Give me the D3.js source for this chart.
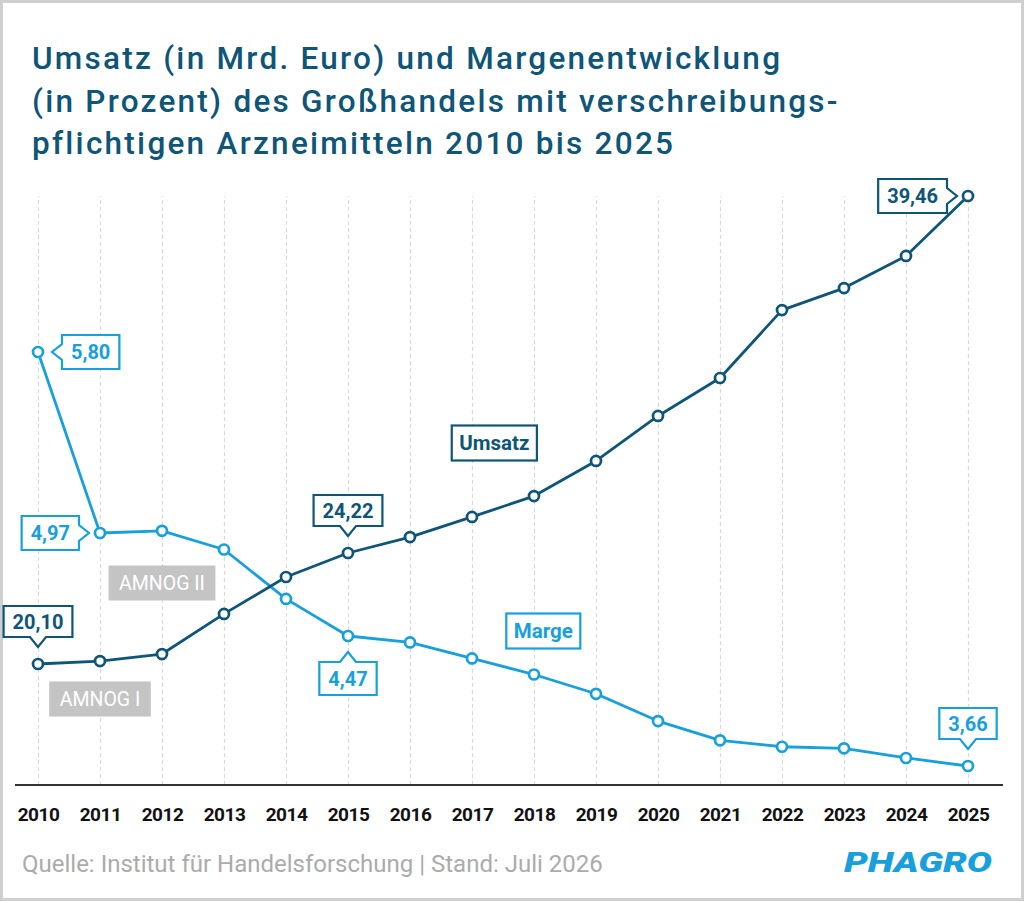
<!DOCTYPE html>
<html>
<head>
<meta charset="utf-8">
<script src="https://cdn.jsdelivr.net/npm/d3@7"></script>
<style>
  body { margin: 0; background: #fff; }
  svg { display: block; }
</style>
</head>
<body>
<div id="chart"></div>
<script>
// data
const years = [2010, 2011, 2012, 2013, 2014, 2015, 2016, 2017, 2018, 2019, 2020, 2021, 2022, 2023, 2024, 2025];
const umsatz = [20.10, 20.21, 20.47, 21.96, 23.33, 24.22, 24.90, 25.76, 26.65, 28.15, 30.07, 31.69, 34.59, 35.53, 36.90, 39.46];
const marge = [5.80, 4.97, 4.98, 4.89, 4.65, 4.47, 4.43, 4.33, 4.23, 4.11, 3.94, 3.82, 3.78, 3.77, 3.71, 3.66];

// which points carry a value callout, and on which side of the point
const umsatzLabels = [[2010, "top"], [2015, "top"], [2025, "left"]];
const margeLabels = [[2010, "right"], [2011, "left"], [2015, "bottom"], [2025, "top"]];

const notes = [
  { text: "AMNOG I", year: 2011 },
  { text: "AMNOG II", year: 2012 }
];

const titleLines = [
  "Umsatz (in Mrd. Euro) und Margenentwicklung",
  "(in Prozent) des Großhandels mit verschreibungs-",
  "pflichtigen Arzneimitteln 2010 bis 2025"
];
const source = "Quelle: Institut für Handelsforschung | Stand: Juli 2026";

const width = 1024, height = 901;
const dark = "#0e5577", light = "#17a0dc", grey = "#c4c4c4";
const font = "Roboto, 'DejaVu Sans', sans-serif";

const svg = d3.select("#chart")
  .append("svg")
  .attr("width", width)
  .attr("height", height)
  .attr("viewBox", [0, 0, width, height]);

// outer frame
svg.append("rect")
  .attr("x", 1.5).attr("y", 1.5)
  .attr("width", width - 3).attr("height", height - 3)
  .attr("fill", "#fff")
  .attr("stroke", "#cfcfcf")
  .attr("stroke-width", 3);

// title - the original face is wider than Roboto, so open up the tracking to the same line length
const title = svg.append("text")
  .attr("x", 32)
  .attr("y", 69)
  .attr("fill", dark)
  .attr("font-family", font)
  .attr("font-weight", 500)
  .attr("font-size", 31.5);

title.selectAll("tspan")
  .data(titleLines)
  .enter()
  .append("tspan")
    .attr("x", 32)
    .attr("dy", (d, i) => i === 0 ? 0 : 42.5)
    .text(d => d);

let firstLine = title.select("tspan").node();
let spacing = (748 - firstLine.getComputedTextLength()) / (titleLines[0].length - 1);
title.attr("letter-spacing", spacing);

// scales (the graphic's vertical spacing is not uniform, so anchor on the labelled values)
let xScale = d3.scaleLinear()
  .domain([2010, 2025])
  .range([38, 968]);

let yU = d3.scaleLinear()
  .domain([20.10, 24.22, 39.46])
  .range([664, 553, 196]);

let yM = d3.scaleLinear()
  .domain([3.66, 4.47, 4.97, 5.80])
  .range([766, 636, 533, 352]);

const axisY = 785;

// dashed grid lines
svg.append("g")
  .attr("transform", `translate(0,${axisY})`)
  .call(d3.axisBottom(xScale).tickValues(years).tickSize(-(axisY - 196)).tickFormat(""))
  .call(g => g.select(".domain").remove())
  .call(g => g.selectAll(".tick line")
    .attr("stroke", "#d9d9d9")
    .attr("stroke-width", 1.2)
    .attr("stroke-dasharray", "4,3"));

// baseline
svg.append("line")
  .attr("x1", 15).attr("x2", 1003)
  .attr("y1", axisY).attr("y2", axisY)
  .attr("stroke", "#333")
  .attr("stroke-width", 2);

// year labels
svg.append("g")
  .attr("transform", `translate(0,${axisY})`)
  .call(d3.axisBottom(xScale).tickValues(years).tickSize(0).tickPadding(23).tickFormat(d3.format("d")))
  .call(g => g.select(".domain").remove())
  .selectAll("text")
    .attr("font-family", font)
    .attr("font-weight", 700)
    .attr("font-size", 19)
    .attr("letter-spacing", -0.5)
    .attr("fill", "#111");

// grey law annotations
notes.forEach(n => {
  const g = svg.append("g");
  const t = g.append("text")
    .attr("font-family", font)
    .attr("font-weight", 400)
    .attr("font-size", 19.5)
    .attr("fill", "#fff")
    .attr("text-anchor", "middle")
    .text(n.text);
  const w = t.node().getBBox().width + 21;
  const cy = n.year === 2011 ? 699 : 583;
  g.insert("rect", "text")
    .attr("x", xScale(n.year) - w / 2)
    .attr("y", cy - 17.5)
    .attr("width", w)
    .attr("height", 35)
    .attr("fill", grey);
  t.attr("x", xScale(n.year)).attr("y", cy + 7);
});

// lines and points
function drawSeries(values, yScale, color) {
  const pts = years.map((yr, i) => [xScale(yr), yScale(values[i])]);
  svg.append("path")
    .attr("d", d3.line()(pts))
    .attr("fill", "none")
    .attr("stroke", color)
    .attr("stroke-width", 2.8)
    .attr("stroke-linejoin", "round");
  svg.append("g")
    .selectAll("circle")
    .data(pts)
    .enter()
    .append("circle")
      .attr("cx", d => d[0])
      .attr("cy", d => d[1])
      .attr("r", 5)
      .attr("fill", "#fff")
      .attr("stroke", color)
      .attr("stroke-width", 2.7);
}
drawSeries(marge, yM, light);
drawSeries(umsatz, yU, dark);

// value callouts: box with a small arrow notch pointing to the point
const fmt = v => v.toFixed(2).replace(".", ",");

function callout(px, py, side, text, color) {
  const n = 10, hw = 8;
  const g = svg.append("g");
  const t = g.append("text")
    .attr("font-family", font)
    .attr("font-weight", 700)
    .attr("font-size", 20)
    .attr("fill", color)
    .attr("text-anchor", "middle")
    .text(text);
  const w = t.node().getBBox().width + 18;
  let d, cx, cy;
  if (side === "top") {
    const h = 31, ty = py - 17, y1 = ty - n, y0 = y1 - h, x0 = px - w / 2, x1 = px + w / 2;
    d = `M${x0},${y0}H${x1}V${y1}H${px + hw}L${px},${ty}L${px - hw},${y1}H${x0}Z`;
    cx = px; cy = (y0 + y1) / 2;
  } else if (side === "bottom") {
    const h = 33, ty = py + 16, y0 = ty + n, y1 = y0 + h, x0 = px - w / 2, x1 = px + w / 2;
    d = `M${x0},${y0}H${px - hw}L${px},${ty}L${px + hw},${y0}H${x1}V${y1}H${x0}Z`;
    cx = px; cy = (y0 + y1) / 2;
  } else if (side === "left") {
    const h = 34, tx = px - 11, x1 = tx - n, x0 = x1 - w, y0 = py - h / 2, y1 = py + h / 2;
    d = `M${x0},${y0}H${x1}V${py - hw}L${tx},${py}L${x1},${py + hw}V${y1}H${x0}Z`;
    cx = (x0 + x1) / 2; cy = py;
  } else {
    const h = 34, tx = px + 14, x0 = tx + n, x1 = x0 + w, y0 = py - h / 2, y1 = py + h / 2;
    d = `M${x0},${y0}H${x1}V${y1}H${x0}V${py + hw}L${tx},${py}L${x0},${py - hw}Z`;
    cx = (x0 + x1) / 2; cy = py;
  }
  g.insert("path", "text")
    .attr("d", d)
    .attr("fill", "#fff")
    .attr("stroke", color)
    .attr("stroke-width", 2.2);
  t.attr("x", cx).attr("y", cy + 7);
}

umsatzLabels.forEach(([yr, side]) => {
  const v = umsatz[years.indexOf(yr)];
  callout(xScale(yr), yU(v), side, fmt(v), dark);
});
margeLabels.forEach(([yr, side]) => {
  const v = marge[years.indexOf(yr)];
  callout(xScale(yr), yM(v), side, fmt(v), light);
});

// series name boxes
function nameBox(text, xYear, cy, color) {
  const g = svg.append("g");
  const t = g.append("text")
    .attr("font-family", font)
    .attr("font-weight", 700)
    .attr("font-size", 20.5)
    .attr("fill", color)
    .attr("text-anchor", "middle")
    .attr("x", xScale(xYear))
    .attr("y", cy + 7)
    .text(text);
  const w = t.node().getBBox().width + 15;
  g.insert("rect", "text")
    .attr("x", xScale(xYear) - w / 2)
    .attr("y", cy - 17.5)
    .attr("width", w)
    .attr("height", 35)
    .attr("fill", "#fff")
    .attr("stroke", color)
    .attr("stroke-width", 2.2);
}
nameBox("Umsatz", 2017.36, 443, dark);
nameBox("Marge", 2018.15, 631, light);

// footer
svg.append("text")
  .attr("x", 22)
  .attr("y", 872)
  .attr("font-family", font)
  .attr("font-size", 24)
  .attr("fill", "#ababab")
  .text(source);

svg.append("text")
  .attr("x", 844)
  .attr("y", 872)
  .attr("font-family", font)
  .attr("font-weight", 900)
  .attr("font-style", "italic")
  .attr("font-size", 27)
  .attr("textLength", 148)
  .attr("lengthAdjust", "spacingAndGlyphs")
  .attr("fill", light)
  .text("PHAGRO");
</script>
</body>
</html>
